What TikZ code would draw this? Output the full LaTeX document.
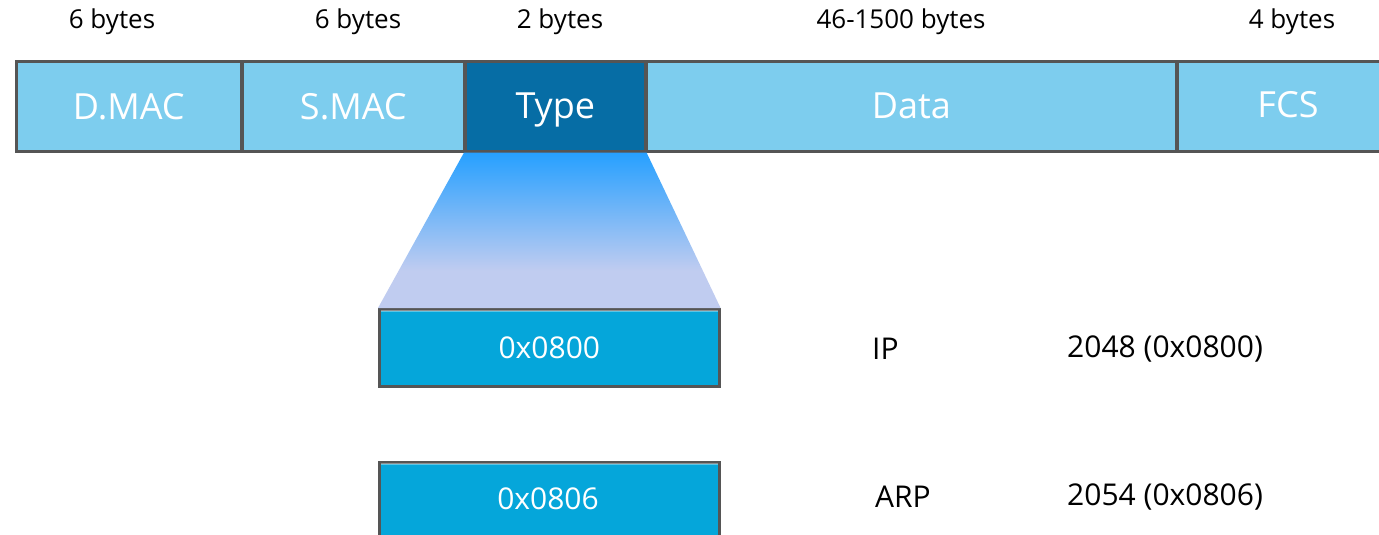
\documentclass[tikz,border=0pt]{standalone}
\usepackage{fontspec}
\setmainfont{Open Sans}
\definecolor{lightb}{HTML}{7DCDEE}
\definecolor{typeb}{HTML}{066DA5}
\definecolor{valb}{HTML}{05A6DA}
\definecolor{edge}{HTML}{555555}
\definecolor{funtop}{HTML}{26A0FF}
\definecolor{funbot}{HTML}{C0CCF0}
\pgfdeclareverticalshading{funnelshade}{100bp}{color(0bp)=(funbot); color(37bp)=(funbot); color(75bp)=(funtop); color(100bp)=(funtop)}
\begin{document}
\begin{tikzpicture}[x=1pt,y=-1pt,
  field/.style={draw=edge, line width=2.6pt, anchor=north west, inner sep=0pt,
    text=white, font=\fontsize{36}{40}\selectfont},
  fieldtxt/.style={text=white, font=\fontsize{36}{40}\selectfont, inner sep=0pt},
  valtxt/.style={text=white, font=\fontsize{30}{34}\selectfont, inner sep=0pt},
  sizelbl/.style={font=\fontsize{26}{30}\selectfont, text=black, inner sep=0pt},
  vallbl/.style={font=\fontsize{30}{34}\selectfont, text=black, inner sep=0pt, anchor=west}]
\useasboundingbox (0,0) rectangle (1379,535);
\begin{scope}
\clip (0,0) rectangle (1379,535);
% top fields
\node[field, fill=lightb, minimum width=225, minimum height=90] (dmac) at (15,60) {};
\node[field, fill=lightb, minimum width=222, minimum height=90] (smac) at (241,60) {};
\node[field, fill=typeb, minimum width=180, minimum height=90] (type) at (464,60) {};
\node[field, fill=lightb, minimum width=530, minimum height=90] (data) at (645,60) {};
\node[field, fill=lightb, minimum width=226, minimum height=90] (fcs) at (1176,60) {};
% value boxes
\node[field, fill=valb, minimum width=340, minimum height=77] (v1) at (378,308) {};
\node[field, fill=valb, minimum width=340, minimum height=100] (v2) at (378,461) {};
% funnel
\shade[shading=funnelshade] (type.south west) -- (type.south east) -- (v1.north east) -- (v1.north west) -- cycle;
% highlights
\draw[white, opacity=0.35, line width=1.5pt] ([xshift=3pt,yshift=-3pt]v1.north west) -- ([xshift=-3pt,yshift=-3pt]v1.north east);
\draw[white, opacity=0.35, line width=1.5pt] ([xshift=3pt,yshift=-3pt]v2.north west) -- ([xshift=-3pt,yshift=-3pt]v2.north east);
\end{scope}
% field texts
\node[fieldtxt] (dmact) at (dmac.center) {D.MAC};
\node[fieldtxt] (smact) at (smac.center) {S.MAC};
\node[fieldtxt, anchor=base] (typet) at ([yshift=-12pt]type.center) {Type};
\node[fieldtxt] (datat) at (data.center) {Data};
\node[fieldtxt] (fcst) at (1288,105) {FCS};
\node[valtxt] (v1t) at (v1.center) {0x0800};
\node[valtxt] (v2t) at (548,499) {0x0806};
% size labels
\node[sizelbl] (s1) at (112,22) {6 bytes};
\node[sizelbl] (s2) at (358,22) {6 bytes};
\node[sizelbl] (s3) at (560,22) {2 bytes};
\node[sizelbl] (s4) at (901,22) {46-1500 bytes};
\node[sizelbl] (s5) at (1292,22) {4 bytes};
% protocol labels
\node[vallbl] (ip) at (872,349) {IP};
\node[vallbl] (ipv) at (1067,349) {2048 (0x0800)};
\node[vallbl] (arp) at (875,497) {ARP};
\node[vallbl] (arpv) at (1067,497) {2054 (0x0806)};
\end{tikzpicture}
\end{document}
